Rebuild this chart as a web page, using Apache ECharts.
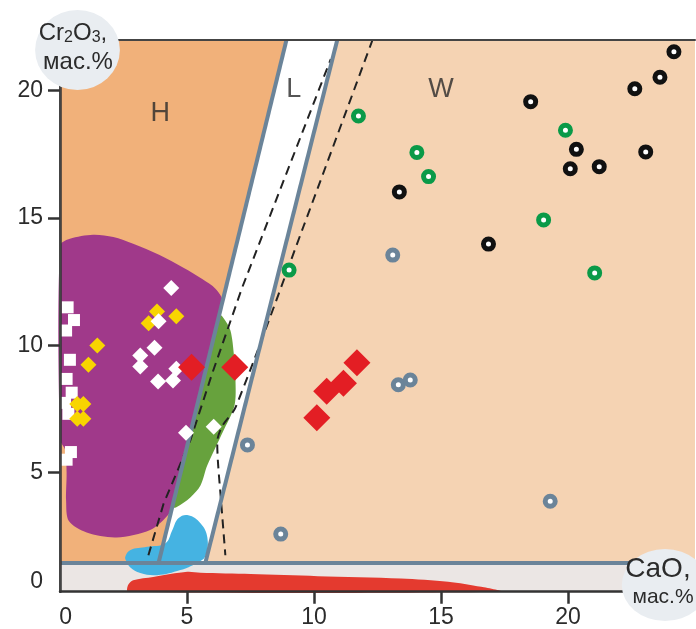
<!DOCTYPE html>
<html>
<head>
<meta charset="utf-8">
<script src="https://cdn.jsdelivr.net/npm/echarts@6/dist/echarts.min.js"></script>
<style>
html, body { margin: 0; padding: 0; background: #fff; }
#chart { width: 696px; height: 629px; }
</style>
</head>
<body>
<div id="chart"></div>
<script>
// axis ticks
var xTicks = [5, 10, 15, 20];
var yTicks = [5, 10, 15, 20];

// field boundaries (CaO, Cr2O3)
var bottomLine = [[0, 1.46], [25, 1.46]];
var lLeftLine = [[3.88, 1.46], [8.92, 22]];
var lRightLine = [[5.72, 1.46], [10.92, 22]];
var dashLine1 = [[3.48, 1.76], [4.08, 3.79], [5.13, 6.27], [5.99, 8.89], [7.17, 12.26], [10.66, 21.23]];
var dashLine2 = [[12.31, 22], [9.6, 14.7], [6.91, 7.56], [6.40, 6.85], [6.19, 6.2], [6.22, 5.4], [6.34, 3.9], [6.51, 1.76]];

// filled fields
var bandRegion = [[0, 0.33], [25, 0.33], [25, 1.46], [0, 1.46]];
var hRegion = [[0, 1.46], [0, 22], [8.92, 22], [3.88, 1.46]];
var lRegion = [[3.88, 1.46], [8.92, 22], [10.92, 22], [5.72, 1.46]];
var wRegion = [[5.72, 1.46], [10.92, 22], [25, 22], [25, 1.46]];
var purpleRegion = [[0, 13.9], [0.39, 14.18], [1.3, 14.34], [2.1, 14.25], [2.88, 13.98], [3.9, 13.55], [4.86, 13.04],
  [5.6, 12.6], [6.12, 12.22], [6.4, 11.7], [5.44, 7.8], [4.48, 3.95], [4.3, 3.4], [3.55, 2.75], [2.23, 2.46],
  [1.05, 2.65], [0.35, 3.1], [0.24, 3.9], [0.26, 5.0], [0.2, 5.9], [0, 6.3]];
var greenRegion = [[6.27, 11.2], [6.45, 11.05], [6.71, 10.58], [6.85, 9.6], [6.91, 8.62], [6.87, 7.64], [6.4, 6.58],
  [5.8, 5.29], [5.53, 4.5], [5.13, 4.03], [4.58, 3.64], [4.42, 3.64], [5.34, 7.42]];
var blueRegion = [[2.57, 1.7], [2.76, 1.96], [3.43, 2.09], [4.15, 2.23], [4.42, 2.74], [4.66, 3.21], [5.05, 3.33],
  [5.53, 3.02], [5.8, 2.47], [5.72, 1.72], [5.37, 1.45], [4.74, 1.18], [3.83, 0.98], [3.16, 1.06], [2.76, 1.29], [2.61, 1.53]];
var redRegion = [[2.68, 0.33], [2.68, 0.59], [2.88, 0.78], [3.67, 0.91], [5.01, 1.11], [5.53, 1.07], [7.5, 1.02],
  [10.15, 0.94], [13.42, 0.85], [15.28, 0.72], [16.58, 0.52], [17.37, 0.33]];

// samples
var whiteSquares = [[0.3, 11.49], [0.55, 10.99], [0.24, 10.58], [0.39, 9.43], [0.26, 8.68], [0.46, 8.14],
  [0.2, 7.74], [0.33, 7.31], [0.43, 5.81], [0.26, 5.51]];
var yellowDiamonds = [[1.47, 9.99], [1.12, 9.24], [0.68, 7.7], [0.92, 7.7], [0.68, 7.12], [0.92, 7.12],
  [3.82, 11.33], [3.49, 10.86], [4.58, 11.14]];
var whiteDiamonds = [[4.38, 12.25], [3.88, 10.94], [3.72, 9.9], [3.16, 9.6], [3.16, 9.17], [3.86, 8.58],
  [4.45, 8.62], [4.58, 9.08], [4.96, 6.57], [6.05, 6.8]];
var redDiamonds = [[5.18, 9.14], [6.88, 9.14], [11.69, 9.31], [11.16, 8.51], [10.5, 8.2], [10.11, 7.16]];
var grayCircles = [[7.38, 6.09], [8.69, 2.59], [13.32, 8.45], [13.79, 8.64], [19.3, 3.88], [13.1, 13.54]];
var greenCircles = [[11.75, 19.0], [14.05, 17.57], [14.51, 16.62], [19.9, 18.44], [19.04, 14.92], [21.05, 12.84], [9.02, 12.95]];
var blackCircles = [[18.53, 19.56], [22.63, 20.07], [23.62, 20.52], [24.17, 21.52], [20.33, 17.69], [20.09, 16.93],
  [21.23, 17.01], [23.06, 17.59], [13.36, 16.02], [16.87, 13.97]];

// field names
var fieldLabels = [{ name: 'H', value: [3.95, 19.1] }, { name: 'L', value: [9.2, 20.05] }, { name: 'W', value: [15.0, 20.05] }];

var font = 'Liberation Sans, Arial, sans-serif';
var edgeColor = '#6b8499';

function region(pts, color, smooth) {
  return {
    type: 'custom',
    silent: true,
    data: [pts[0]],
    z: 1,
    renderItem: function (params, api) {
      return {
        type: 'polygon',
        shape: { points: pts.map(function (p) { return api.coord(p); }), smooth: smooth || 0 },
        style: { fill: color }
      };
    }
  };
}

function edge(pts, color, width, dashed, smooth) {
  return {
    type: 'line',
    data: pts,
    symbol: 'none',
    silent: true,
    smooth: smooth || false,
    z: 3,
    lineStyle: { color: color, width: width, type: dashed ? [9, 6] : 'solid' }
  };
}

function points(pts, symbol, size, style) {
  style.opacity = 1;
  return { type: 'scatter', data: pts, symbol: symbol, symbolSize: size, itemStyle: style, z: 5 };
}

function ring(pts, color) {
  return points(pts, 'circle', 10, { color: '#fff', borderColor: color, borderWidth: 5 });
}

var myChart = echarts.init(document.getElementById('chart'));
var option = {
  animation: false,
  grid: { left: 60, right: 1, top: 39.5, bottom: 37.3, show: false },
  xAxis: [{
    type: 'value', min: 0, max: 25, z: 6,
    splitLine: { show: false },
    axisLine: { lineStyle: { color: '#333', width: 2.5 } },
    axisTick: { length: 12, lineStyle: { color: '#333', width: 2.5 }, customValues: xTicks },
    axisLabel: {
      customValues: [0.22].concat(xTicks), margin: 14, color: '#2b2b2b', fontSize: 23, fontFamily: font,
      formatter: function (v) { return v < 1 ? '0' : String(v); }
    }
  }, {
    type: 'value', min: 0, max: 25, position: 'top', z: 6,
    splitLine: { show: false }, axisTick: { show: false }, axisLabel: { show: false },
    axisLine: { lineStyle: { color: '#444', width: 2 } }
  }],
  yAxis: [{
    type: 'value', min: 0.33, max: 22, z: 6,
    splitLine: { show: false },
    axisLine: { lineStyle: { color: '#333', width: 2.5 } },
    axisTick: { length: 12, lineStyle: { color: '#333', width: 2.5 }, customValues: yTicks },
    axisLabel: {
      customValues: [0.72].concat(yTicks), margin: 17, color: '#2b2b2b', fontSize: 23, fontFamily: font,
      formatter: function (v) { return v < 1 ? '0' : String(v); }
    }
  }, {
    type: 'value', min: 0.33, max: 22, position: 'right', z: 6,
    splitLine: { show: false }, axisTick: { show: false }, axisLabel: { show: false },
    axisLine: { lineStyle: { color: '#444', width: 2 } }
  }],
  graphic: [
    { type: 'circle', x: 77.5, y: 50, scaleX: 1.06, scaleY: 1, shape: { cx: 0, cy: 0, r: 40 }, style: { fill: '#e9edf1' }, z: 100 },
    {
      type: 'text', x: 73, y: 33, z: 101,
      style: {
        text: 'Cr{s|2}O{s|3},', x: 0, y: 0, align: 'center', verticalAlign: 'middle',
        fontSize: 24, fontFamily: font, fill: '#2b2b2b',
        rich: { s: { fontSize: 16, fontFamily: font, fill: '#2b2b2b', padding: [9, 0, 0, 0] } }
      }
    },
    { type: 'text', x: 78, y: 62, z: 101, style: { text: 'мас.%', align: 'center', verticalAlign: 'middle', fontSize: 24, fontFamily: font, fill: '#2b2b2b' } },
    { type: 'circle', x: 665, y: 585, scaleX: 1.2, scaleY: 1, shape: { cx: 0, cy: 0, r: 36 }, style: { fill: '#e9edf1' }, z: 100 },
    { type: 'text', x: 658, y: 569, z: 101, style: { text: 'CaO,', align: 'center', verticalAlign: 'middle', fontSize: 28, fontFamily: font, fill: '#2b2b2b' } },
    { type: 'text', x: 663, y: 597, z: 101, style: { text: 'мас.%', align: 'center', verticalAlign: 'middle', fontSize: 21, fontFamily: font, fill: '#2b2b2b' } }
  ],
  series: [
    region(bandRegion, '#ebe6e4'),
    region(hRegion, '#f1b17a'),
    region(lRegion, '#ffffff'),
    region(wRegion, '#f5d3b3'),
    region(purpleRegion, '#a0398a', 0.3),
    region(greenRegion, '#67a23d', 0.3),
    region(blueRegion, '#45b3e2', 0.4),
    region(redRegion, '#e43a2f', 0.3),
    edge(dashLine1, '#222', 2, true),
    edge(dashLine2, '#222', 2, true, 0.3),
    edge(bottomLine, edgeColor, 4),
    edge(lLeftLine, edgeColor, 4),
    edge(lRightLine, edgeColor, 4),
    points(whiteSquares, 'rect', 12, { color: '#fff' }),
    points(yellowDiamonds, 'diamond', 16, { color: '#f8d500' }),
    points(whiteDiamonds, 'diamond', 16, { color: '#fff' }),
    points(redDiamonds, 'diamond', 27, { color: '#e31e24' }),
    ring(grayCircles, '#6b8499'),
    ring(greenCircles, '#0a9a48'),
    ring(blackCircles, '#111'),
    {
      type: 'scatter', data: fieldLabels, symbolSize: 0, z: 5,
      label: { show: true, position: 'inside', formatter: '{b}', fontSize: 27, fontFamily: font, color: '#2b2b2b' }
    }
  ]
};
myChart.setOption(option);
</script>
</body>
</html>
